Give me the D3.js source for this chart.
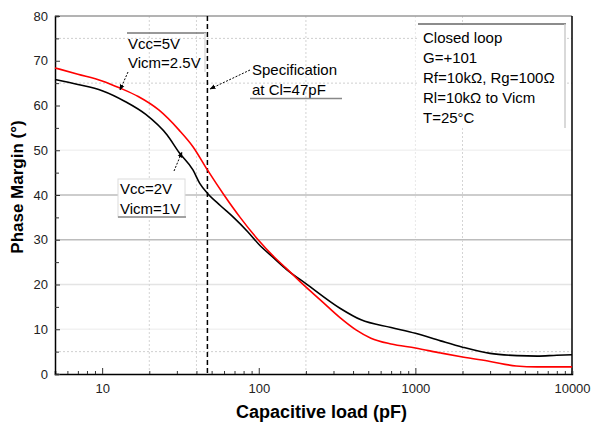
<!DOCTYPE html>
<html><head><meta charset="utf-8">
<script src="https://cdn.jsdelivr.net/npm/d3@7"></script>
<style>body{margin:0;background:#fff}svg text{font-family:"Liberation Sans",Arial,sans-serif}</style>
</head><body><svg id="c" width="593" height="425"></svg>
<script>
// ---- data ----
const xTicks = [10, 100, 1000, 10000];
const yTicks = [0, 10, 20, 30, 40, 50, 60, 70, 80];
const blackC = [5,7,10,14,19,26,31,38,42,47,57,69,85,100,125,150,200,330,450,700,1000,1450,2000,3000,4500,6000,8000,10000];
const blackV = [65.8,64.7,63.3,60.9,58.0,53.4,49.5,45.6,42.6,40.4,37.6,35.0,31.8,29.0,25.9,23.4,20.2,14.7,12.1,10.4,9.1,7.4,6.0,4.6,4.1,4.0,4.2,4.3];
const redC = [5,7,10,13,17,23,31,38,47,60,76,99,125,150,188,250,330,420,520,700,1000,1450,2000,3000,4400,6000,10000];
const redV = [68.4,67.0,65.5,63.9,62.0,59.0,54.5,50.8,45.6,40.0,35.0,30.0,26.2,23.6,20.3,16.4,12.6,9.8,8.0,6.7,5.8,4.7,3.8,2.8,1.8,1.6,1.6];
const specC = 47;
const notes = ["Closed loop", "G=+101", "Rf=10kΩ, Rg=100Ω", "Rl=10kΩ to Vicm", "T=25°C"];

const svg = d3.select("#c");
const L = 55, R = 572, T = 16, B = 374;
const x = d3.scaleLog().domain([5, 10000]).range([L, R]);
const y = d3.scaleLinear().domain([0, 80]).range([B, T]);

// grid
const g = svg.append("g");
[[75,"dot"],[65,"dot"],[5,"dot"],[40,"solid"],[30,"solid"],[20,"light"],[10,"faint"],[50,"faint"]].forEach(([v,t])=>{
  g.append("line").attr("x1",L).attr("x2",R).attr("y1",y(v)).attr("y2",y(v))
   .attr("stroke", t==="solid"?"#bcbcbc":t==="light"?"#e4e4e4":t==="faint"?"#f2f2f2":"#cfcfcf")
   .attr("stroke-width", t==="dot"?1:1.5)
   .attr("stroke-dasharray", t==="dot"?"2,2":null);
});
[20,40,200,2000,1000].forEach(v=>{
  g.append("line").attr("x1",x(v)).attr("x2",x(v)).attr("y1",T).attr("y2",B)
   .attr("stroke", v===1000?"#e8e8e8":"#d4d4d4").attr("stroke-dasharray","2,2");
});

// frame
svg.append("line").attr("x1",L).attr("x2",R).attr("y1",T).attr("y2",T).attr("stroke","#9a9a9a").attr("stroke-width",1.5);
svg.append("line").attr("x1",R).attr("x2",R).attr("y1",T).attr("y2",B).attr("stroke","#000").attr("stroke-width",1.5);

// axes
const minor = [];
for (let d = 1; d <= 1000; d *= 10) for (let k = 1; k <= 9; k++) { const v = k*d; if (v>=5 && v<=10000) minor.push(v); }
minor.push(10000);
const gx = svg.append("g").attr("transform",`translate(0,${B})`)
  .call(d3.axisBottom(x).tickValues(minor).tickSize(-3).tickFormat(""));
gx.selectAll(".tick line").attr("stroke","#333").attr("y2", d => xTicks.includes(d) ? -6 : -3);
gx.select(".domain").attr("stroke","#000").attr("stroke-width",1.5);
const gxl = svg.append("g").attr("transform",`translate(0,${B})`)
  .call(d3.axisBottom(x).tickValues(xTicks).tickSize(0).tickPadding(10).tickFormat(d3.format("d")));
gxl.select(".domain").remove();
gxl.selectAll("text").attr("font-size",13).attr("fill","#222").attr("font-family","Liberation Sans, Arial, sans-serif");

const yMinor = d3.range(0, 81, 5);
const gy = svg.append("g").attr("transform",`translate(${L},0)`)
  .call(d3.axisLeft(y).tickValues(yMinor).tickSize(-4).tickFormat(""));
gy.selectAll(".tick line").attr("stroke","#333").attr("x2", d => d%10===0 ? 5 : 4);
gy.select(".domain").attr("stroke","#000").attr("stroke-width",1.5);
const gyl = svg.append("g").attr("transform",`translate(${L},0)`)
  .call(d3.axisLeft(y).tickValues(yTicks).tickSize(0).tickPadding(7));
gyl.select(".domain").remove();
gyl.selectAll("text").attr("font-size",13).attr("fill","#222").attr("font-family","Liberation Sans, Arial, sans-serif");

// titles
svg.append("text").attr("x",(L+R)/2+8).attr("y",418).attr("text-anchor","middle")
  .attr("font-size",18).attr("font-weight","bold").text("Capacitive load (pF)");
svg.append("text").attr("transform",`translate(23,187) rotate(-90)`).attr("text-anchor","middle")
  .attr("font-size",17).attr("font-weight","bold").text("Phase Margin (°)");

// spec line
svg.append("line").attr("x1",x(specC)).attr("x2",x(specC)).attr("y1",T).attr("y2",B)
  .attr("stroke","#000").attr("stroke-width",1.5).attr("stroke-dasharray","5,3");

// curves
const line = d3.line().x(d=>x(d[0])).y(d=>y(d[1])).curve(d3.curveMonotoneX);
svg.append("path").datum(blackC.map((c,i)=>[c,blackV[i]])).attr("d",line)
  .attr("fill","none").attr("stroke","#000").attr("stroke-width",1.6);
svg.append("path").datum(redC.map((c,i)=>[c,redV[i]])).attr("d",line)
  .attr("fill","none").attr("stroke","#ff0000").attr("stroke-width",1.6);

// arrows
svg.append("defs").append("marker").attr("id","ah").attr("viewBox","0 0 10 10").attr("refX",9).attr("refY",5)
  .attr("markerWidth",6).attr("markerHeight",6).attr("orient","auto")
  .append("path").attr("d","M0,1 L10,5 L0,9 Z").attr("fill","#000");
function arrow(x1,y1,x2,y2){
  svg.append("line").attr("x1",x1).attr("y1",y1).attr("x2",x2).attr("y2",y2)
    .attr("stroke","#000").attr("stroke-width",1).attr("stroke-dasharray","2,1.5").attr("marker-end","url(#ah)");
}
arrow(128,72,120,90);
arrow(174,171,182,152);
arrow(250,70,210,89);

// annotation: Vcc=5V
svg.append("line").attr("x1",127).attr("x2",206).attr("y1",33).attr("y2",33).attr("stroke","#777").attr("stroke-width",1.5);
svg.append("line").attr("x1",205).attr("x2",205).attr("y1",33).attr("y2",72).attr("stroke","#ddd").attr("stroke-width",1.5);
svg.append("text").attr("x",128).attr("y",49).attr("font-size",15).text("Vcc=5V");
svg.append("text").attr("x",128).attr("y",68).attr("font-size",15).text("Vicm=2.5V");

// annotation: Vcc=2V
svg.append("rect").attr("x",118).attr("y",179).attr("width",67).attr("height",38).attr("fill","#fff").attr("stroke","#dcdcdc").attr("stroke-width",1);
svg.append("line").attr("x1",118).attr("x2",186).attr("y1",217).attr("y2",217).attr("stroke","#888").attr("stroke-width",1.5);
svg.append("text").attr("x",120).attr("y",194).attr("font-size",15).text("Vcc=2V");
svg.append("text").attr("x",120).attr("y",214).attr("font-size",15).text("Vicm=1V");

// annotation: spec
svg.append("text").attr("x",252).attr("y",75).attr("font-size",15).text("Specification");
svg.append("text").attr("x",252).attr("y",95).attr("font-size",15).text("at Cl=47pF");
svg.append("line").attr("x1",250).attr("x2",342).attr("y1",98.5).attr("y2",98.5).attr("stroke","#888").attr("stroke-width",1.5);

// notes box
svg.append("rect").attr("x",419).attr("y",25).attr("width",146).attr("height",103).attr("fill","#fff");
svg.append("line").attr("x1",418).attr("x2",566).attr("y1",24).attr("y2",24).attr("stroke","#666").attr("stroke-width",1.5);
svg.append("line").attr("x1",565).attr("x2",565).attr("y1",24).attr("y2",128).attr("stroke","#ccc").attr("stroke-width",1.5);
notes.forEach((t,i)=>svg.append("text").attr("x",423).attr("y",43+i*20).attr("font-size",15).text(t));
</script></body></html>
